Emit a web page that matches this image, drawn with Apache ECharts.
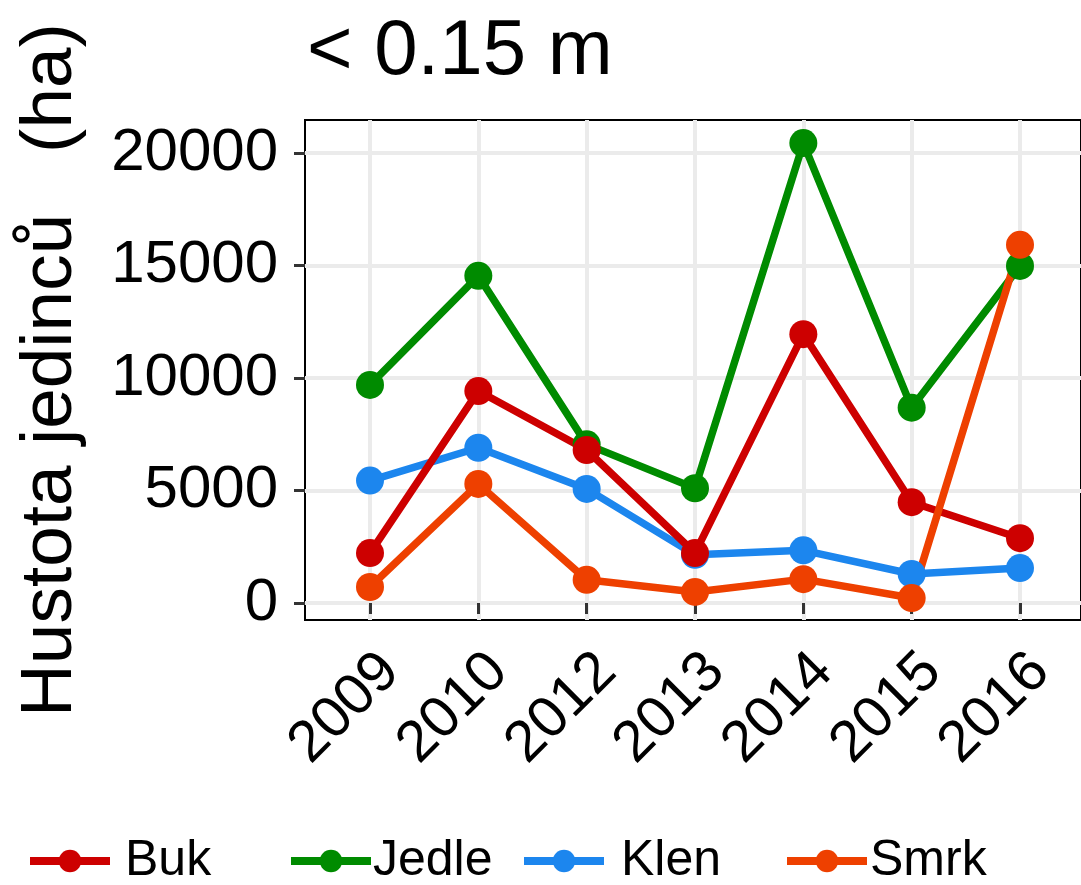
<!DOCTYPE html>
<html>
<head>
<meta charset="utf-8">
<script src="https://cdn.jsdelivr.net/npm/echarts@6/dist/echarts.min.js"></script>
<style>
  html, body { margin: 0; padding: 0; background: #fff; }
  #chart { width: 1081px; height: 885px; }
</style>
</head>
<body>
<div id="chart"></div>
<script>
// data
const years = ['2009', '2010', '2012', '2013', '2014', '2015', '2016'];
const buk = [2220, 9420, 6800, 2220, 11950, 4480, 2880];
const jedle = [9690, 14540, 7050, 5100, 20440, 8680, 14980];
const klen = [5440, 6900, 5070, 2140, 2340, 1290, 1550];
const smrk = [710, 5290, 1030, 490, 1060, 220, 15920];
const yTicks = [0, 5000, 10000, 15000, 20000];

const FONT = '"Liberation Sans", Arial, sans-serif';
const colors = { Buk: '#CD0000', Jedle: '#008B00', Klen: '#1C86EE', Smrk: '#EE4000' };

function line(name, values) {
  return {
    name: name,
    type: 'line',
    xAxisIndex: 2,
    yAxisIndex: 2,
    data: values,
    symbol: 'circle',
    symbolSize: 28,
    color: colors[name],
    lineStyle: { width: 7.5, color: colors[name] },
    itemStyle: { color: colors[name] },
    emphasis: { disabled: true },
    animation: false,
  };
}

// one legend per key so the gaps can follow the original
function legendAt(name, left, textPad) {
  return {
    data: [name],
    left: left,
    top: 836,
    padding: 0,
    itemWidth: 80,
    itemHeight: 28,
    selectedMode: false,
    lineStyle: { width: 8 },
    textStyle: { fontSize: 50, fontFamily: FONT, color: '#000', padding: [0, 0, 0, textPad] },
  };
}

const chart = echarts.init(document.getElementById('chart'));
chart.setOption({
  backgroundColor: '#fff',
  animation: false,
  title: {
    text: '< 0.15 m',
    left: 302,
    top: 8,
    textStyle: { fontSize: 78, fontWeight: 'normal', fontFamily: FONT, color: '#000' },
  },
  legend: [
    legendAt('Buk', 26, 10),
    legendAt('Jedle', 287, -3),
    legendAt('Klen', 520, 12),
    legendAt('Smrk', 783, -2),
  ],
  grid: [
    // panel frame
    { left: 305, top: 120, width: 780, height: 500, show: true, borderColor: '#000', borderWidth: 2, backgroundColor: 'transparent' },
    // y ticks + horizontal grid
    { left: 305, top: 153, width: 780, height: 450 },
    // data
    { left: 370, top: 120, width: 650, height: 500 },
  ],
  xAxis: [
    { gridIndex: 0, type: 'value', show: false },
    { gridIndex: 1, type: 'value', show: false },
    {
      gridIndex: 2,
      type: 'category',
      data: years,
      boundaryGap: false,
      axisLine: { show: false },
      axisTick: { show: true, length: 11, lineStyle: { color: '#333', width: 3 } },
      axisLabel: {
        rotate: 45, fontSize: 58, fontFamily: FONT, color: '#000',
        margin: 22, verticalAlign: 'top',
      },
      splitLine: { show: true, lineStyle: { color: '#EBEBEB', width: 4 } },
    },
  ],
  yAxis: [
    {
      gridIndex: 0,
      type: 'value',
      name: 'Hustota jedinců   (ha)',
      nameLocation: 'middle',
      nameRotate: 90,
      nameGap: 218,
      nameTextStyle: { fontSize: 73, fontFamily: FONT, color: '#000' },
      axisLine: { show: false },
      axisTick: { show: false },
      axisLabel: { show: false },
      splitLine: { show: false },
    },
    {
      gridIndex: 1,
      type: 'value',
      min: yTicks[0],
      max: yTicks[yTicks.length - 1],
      interval: 5000,
      axisLine: { show: false },
      axisTick: { show: true, length: 11, lineStyle: { color: '#333', width: 3 } },
      axisLabel: {
        fontSize: 60, fontFamily: FONT, color: '#000', margin: 27,
        formatter: (v) => String(v),
      },
      splitLine: { show: true, lineStyle: { color: '#EBEBEB', width: 4 } },
    },
    { gridIndex: 2, type: 'value', min: -756, max: 21467, show: false },
  ],
  // drawn in this order so the overlaps stack like the original
  series: [
    line('Jedle', jedle),
    line('Klen', klen),
    line('Buk', buk),
    line('Smrk', smrk),
  ],
});
</script>
</body>
</html>
